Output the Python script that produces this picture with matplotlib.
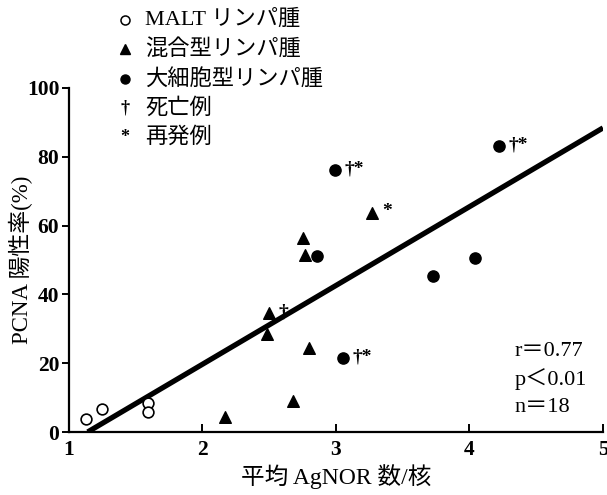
import matplotlib
matplotlib.use("Agg")
import matplotlib.pyplot as plt
import numpy as np
from matplotlib.lines import Line2D

plt.rcParams["font.family"] = ["Liberation Serif", "Noto Sans CJK JP"]

# MALT lymphoma (open circles)
malt_x = [1.13, 1.25, 1.59, 1.59]
malt_y = [3.9, 6.6, 8.5, 5.8]
# mixed type (filled triangles)
mixed_x = [2.17, 2.48, 2.50, 2.68, 2.75, 2.77, 2.80, 3.27]
mixed_y = [4.5, 28.5, 34.5, 8.9, 56.5, 51.5, 24.5, 63.8]
mixed_tag = ["", "", "†", "", "", "", "", "*"]
# large cell type (filled circles)
large_x = [2.86, 2.99, 3.05, 3.73, 4.04, 4.22]
large_y = [51.2, 76.1, 21.5, 45.4, 50.7, 83.1]
large_tag = ["", "†*", "†*", "", "", "†*"]

# regression line y = slope * x + icpt
slope, icpt = 22.9, -26.1
fit_range = [1.14, 5.0]

legend_labels = ["MALT リンパ腫", "混合型リンパ腫", "大細胞型リンパ腫", "死亡例", "再発例"]
stats = ["r＝0.77", "p＜0.01", "n＝18"]

W, H = 607, 495
fig = plt.figure(figsize=(W / 100, H / 100), dpi=100)
ax = fig.add_axes([69 / W, 1 - 432 / H, (603 - 69) / W, (432 - 88) / H])

fx = np.array(fit_range)
ax.plot(fx, slope * fx + icpt, color="black", lw=3.8, solid_capstyle="butt", zorder=2)

ax.scatter(malt_x, malt_y, s=60, facecolors="white", edgecolors="black", linewidths=1.2,
           zorder=3, clip_on=False)
ax.scatter(mixed_x, mixed_y, s=70, marker="^", color="black", zorder=3, clip_on=False)
ax.scatter(large_x, large_y, s=65, marker="o", color="black", zorder=3, clip_on=False)

for xs, ys, tags in [(mixed_x, mixed_y, mixed_tag), (large_x, large_y, large_tag)]:
    for x, y, t in zip(xs, ys, tags):
        if t:
            ax.annotate(t, (x, y), xytext=(7, 1), textcoords="offset points",
                        fontsize=14, fontweight="bold", va="center", ha="left")

ax.set_xlim(1, 5)
ax.set_ylim(0, 100)
ax.set_xticks([1, 2, 3, 4, 5])
ax.set_yticks([0, 20, 40, 60, 80, 100])
for s in ["top", "right"]:
    ax.spines[s].set_visible(False)
for s in ["left", "bottom"]:
    ax.spines[s].set_linewidth(1.6)
ax.tick_params(axis="y", direction="out", length=5, width=1.4, pad=2, labelsize=15.5)
ax.tick_params(axis="x", direction="in", length=6, width=1.4, pad=6, labelsize=15.5)
for lab in ax.get_xticklabels() + ax.get_yticklabels():
    lab.set_fontweight("bold")

ax.set_ylabel("PCNA 陽性率(%)", fontsize=16.5)
ax.yaxis.set_label_coords(-0.068, 0.5)
ax.set_xlabel("平均 AgNOR 数/核", fontsize=17, labelpad=3)

for i, s in enumerate(stats):
    ax.text(0.835, 0.235 - i * 0.082, s, transform=ax.transAxes, fontsize=16,
            ha="left", va="center")

# legend block above the plot
rows = [20, 49, 79, 108, 137]
mk = [dict(marker="o", mfc="white", mec="black", mew=1.1, ms=6.5),
      dict(marker="^", color="black", ms=6.5),
      dict(marker="o", color="black", ms=6.5)]
for i, (lab, ry) in enumerate(zip(legend_labels, rows)):
    yf = 1 - ry / H
    if i < 3:
        fig.add_artist(Line2D([125 / W], [yf], transform=fig.transFigure, ls="none", **mk[i]))
    else:
        fig.text(125 / W, yf, ["†", "*"][i - 3], ha="center", va="center",
                 fontsize=13, fontweight="bold")
    fig.text(145 / W, yf, lab, ha="left", va="center", fontsize=16)

fig.savefig("out.png", dpi=100)
